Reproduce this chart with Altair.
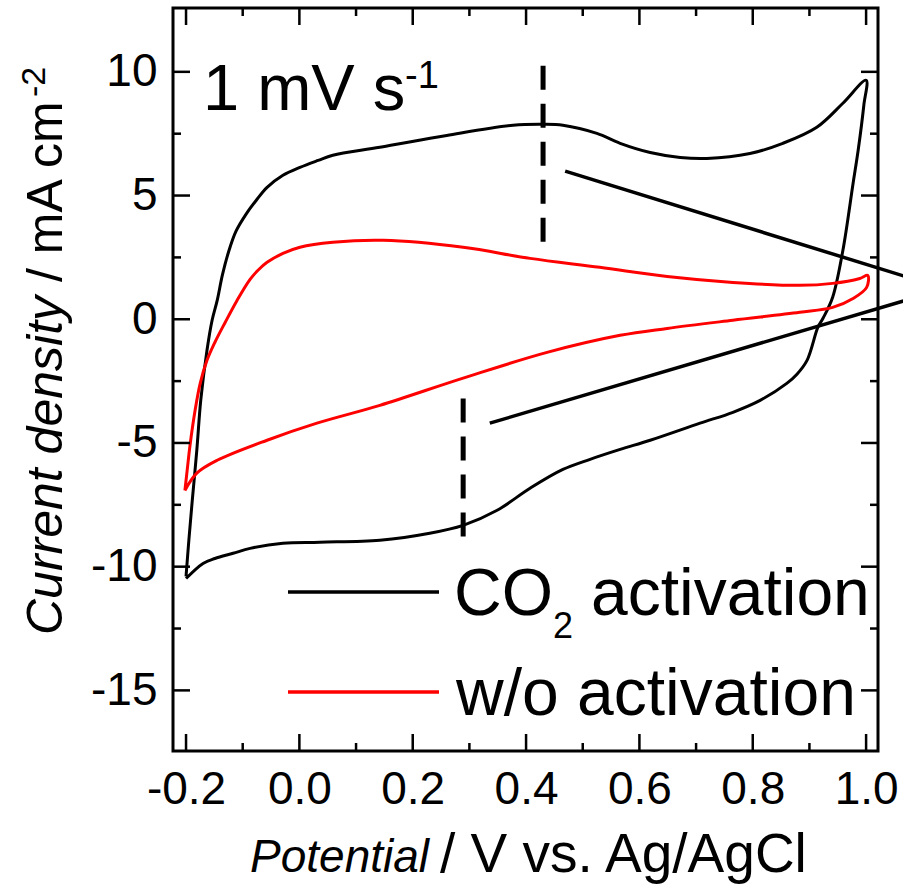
import altair as alt
import pandas as pd

# ---------------- data ----------------
# CO2 activation (black), closed CV loop: anodic sweep then cathodic sweep
co2_x = [-0.200, -0.195, -0.189, -0.181, -0.174, -0.163, -0.154, -0.145, -0.136, -0.125,
         -0.112, -0.094, -0.076, -0.057, -0.029, 0.001, 0.033, 0.059, 0.142, 0.260,
         0.377, 0.430, 0.465, 0.525, 0.566, 0.619, 0.672, 0.719, 0.795, 0.853,
         0.913, 0.959, 1.000,
         0.996, 0.986, 0.977, 0.959, 0.941, 0.924, 0.915, 0.896, 0.878, 0.860,
         0.813, 0.765, 0.707, 0.619, 0.566, 0.513, 0.465, 0.407, 0.349, 0.289,
         0.230, 0.142, 0.036, -0.029, -0.087, -0.117, -0.149, -0.170, -0.200]
co2_y = [-10.39, -8.93, -7.32, -5.30, -3.27, -1.25, -0.04, 0.76, 1.77, 2.72,
         3.55, 4.25, 4.81, 5.33, 5.82, 6.14, 6.42, 6.63, 6.95, 7.43,
         7.84, 7.88, 7.84, 7.51, 7.11, 6.74, 6.54, 6.50, 6.70, 7.11,
         7.76, 8.73, 9.66,
         8.65, 6.83, 5.49, 2.78, 0.89, 0.04, -0.32, -1.65, -2.22, -2.59,
         -3.28, -3.76, -4.20, -4.89, -5.26, -5.66, -6.07, -6.83, -7.72, -8.33,
         -8.65, -8.93, -9.01, -9.05, -9.26, -9.46, -9.67, -9.87, -10.48]

# w/o activation (red), closed CV loop
wo_x = [-0.202, -0.198, -0.193, -0.184, -0.175, -0.163, -0.149, -0.131, -0.110, -0.087,
        -0.073, -0.057, -0.029, 0.001, 0.059, 0.148, 0.289, 0.407, 0.530, 0.649,
        0.765, 0.883, 0.941, 0.989, 1.003,
        1.001, 0.977, 0.941, 0.883, 0.765, 0.649, 0.566, 0.437, 0.289, 0.142,
        0.031, -0.057, -0.145, -0.181, -0.202]
wo_y = [-6.92, -6.11, -5.10, -3.68, -2.59, -1.66, -0.93, -0.13, 0.76, 1.61,
        1.98, 2.30, 2.66, 2.91, 3.11, 3.19, 2.91, 2.46, 2.10, 1.73,
        1.49, 1.37, 1.45, 1.65, 1.77,
        1.29, 0.84, 0.48, 0.28, -0.04, -0.37, -0.65, -1.34, -2.38, -3.48,
        -4.20, -4.89, -5.70, -6.22, -6.92]

series_names = ["CO2 activation", "w/o activation"]
series_colors = ["#000000", "#ff0000"]

x_major = [-0.2, 0.0, 0.2, 0.4, 0.6, 0.8, 1.0]
x_minor = [-0.1, 0.1, 0.3, 0.5, 0.7, 0.9]
y_major = [-15, -10, -5, 0, 5, 10]
y_minor = [-12.5, -7.5, -2.5, 2.5, 7.5]

# dashed vertical markers
dash_x = [0.430, 0.289]
dash_top = [10.25, -3.20]
dash_bottom = [2.90, -9.35]

# callout lines running off to the right
call_x1 = [0.469, 0.336]
call_y1 = [5.99, -4.20]
call_x2 = [1.10, 1.10]
call_y2 = [1.51, 0.97]

# ---------------- layout ----------------
W, H = 705, 743
X_DOMAIN = [-0.223, 1.021]
Y_DOMAIN = [-17.45, 12.58]
FONT = "Liberation Sans"
MAJOR, MINOR = 17, 8

xs = alt.Scale(domain=X_DOMAIN, nice=False, zero=False)
ys = alt.Scale(domain=Y_DOMAIN, nice=False, zero=False)

label_fix = "replace(datum.label, '\u2212', '-')"
x_axis = alt.Axis(values=x_major, format=".1f", labelExpr=label_fix,
                  ticks=False, tickSize=0, domain=False, grid=False,
                  labelFont=FONT, labelFontSize=46, labelColor="black",
                  labelPadding=16, labelFlush=False, labelOverlap=False,
                  title=None)
y_axis = alt.Axis(values=y_major, format="d", labelExpr=label_fix,
                  ticks=False, tickSize=0, domain=False, grid=False,
                  labelFont=FONT, labelFontSize=46, labelColor="black",
                  labelPadding=16, labelFlush=False, labelOverlap=False,
                  title=None)

rows = []
for name, xv, yv in [(series_names[0], co2_x, co2_y), (series_names[1], wo_x, wo_y)]:
    for i, (a, b) in enumerate(zip(xv, yv)):
        rows.append({"series": name, "i": i, "x": a, "y": b})
curves_df = pd.DataFrame(rows)

curves = alt.Chart(curves_df).mark_line(strokeWidth=3, interpolate="catmull-rom").encode(
    x=alt.X("x:Q", scale=xs, axis=x_axis),
    y=alt.Y("y:Q", scale=ys, axis=y_axis),
    color=alt.Color("series:N", scale=alt.Scale(domain=series_names, range=series_colors),
                    legend=None),
    order="i:Q",
    detail="series:N",
)

dash_df = pd.DataFrame({"x": dash_x, "y": dash_top, "y2": dash_bottom})
dashes = alt.Chart(dash_df).mark_rule(color="black", strokeWidth=5, strokeDash=[24, 14]).encode(
    x=alt.X("x:Q", scale=xs, axis=x_axis),
    y=alt.Y("y:Q", scale=ys, axis=y_axis),
    y2="y2:Q",
)

call_df = pd.DataFrame({"x": call_x1, "y": call_y1, "x2": call_x2, "y2": call_y2})
callouts = alt.Chart(call_df).mark_rule(color="black", strokeWidth=3.5).encode(
    x=alt.X("x:Q", scale=xs, axis=x_axis),
    y=alt.Y("y:Q", scale=ys, axis=y_axis),
    x2="x2:Q",
    y2="y2:Q",
)


def xticks(values, size, top):
    df = pd.DataFrame({"x": values})
    y0, y1 = (0, size) if top else (H, H - size)
    return alt.Chart(df).mark_rule(color="black", strokeWidth=2.5).encode(
        x=alt.X("x:Q", scale=xs, axis=x_axis),
        y=alt.value(y0), y2=alt.value(y1))


def yticks(values, size, right):
    df = pd.DataFrame({"y": values})
    x0, x1 = (W, W - size) if right else (0, size)
    return alt.Chart(df).mark_rule(color="black", strokeWidth=2.5).encode(
        y=alt.Y("y:Q", scale=ys, axis=y_axis),
        x=alt.value(x0), x2=alt.value(x1))


ticks = [
    xticks(x_major, MAJOR, False), xticks(x_minor, MINOR, False),
    xticks(x_major, MAJOR, True), xticks(x_minor, MINOR, True),
    yticks(y_major, MAJOR, False), yticks(y_minor, MINOR, False),
    yticks(y_major, MAJOR, True), yticks(y_minor, MINOR, True),
]

one = pd.DataFrame({"k": [0]})


def txt(s, x, y, size, style="normal", angle=0, align="left"):
    return alt.Chart(one).mark_text(
        text=s, font=FONT, fontSize=size, fontStyle=style, color="black",
        align=align, baseline="alphabetic", angle=angle,
    ).encode(x=alt.value(x), y=alt.value(y))


def legline(color, y):
    return alt.Chart(one).mark_rule(color=color, strokeWidth=3.5).encode(
        x=alt.value(115), x2=alt.value(266), y=alt.value(y))


texts = [
    # scan-rate label
    txt("1 mV s", 30, 102, 65),
    txt("-1", 232, 80, 38),
    # legend
    legline(series_colors[0], 584),
    legline(series_colors[1], 684),
    txt("CO", 281, 607, 66),
    txt("2", 380, 630, 36),
    txt("activation", 418, 607, 66),
    txt("w/o activation", 283, 707, 66),
    # x-axis title
    txt("Potential", 77, 864, 46, style="italic"),
    txt("/ V vs. Ag/AgCl", 267, 864, 55),
    # y-axis title (rotated)
    txt("Current density", -111, 627, 50, style="italic", angle=270),
    txt("/ mA cm", -111, 274, 50, angle=270),
    txt("-2", -128, 89, 34, angle=270),
]

chart = alt.layer(curves, dashes, callouts, *ticks, *texts).properties(
    width=W, height=H,
    autosize=alt.AutoSizeParams(type="none"),
    padding={"left": 173, "top": 8, "right": 25, "bottom": 135},
).configure(background="white").configure_view(stroke="black", strokeWidth=3)

chart.save("out.html", embed_options={"renderer": "svg", "actions": False})
